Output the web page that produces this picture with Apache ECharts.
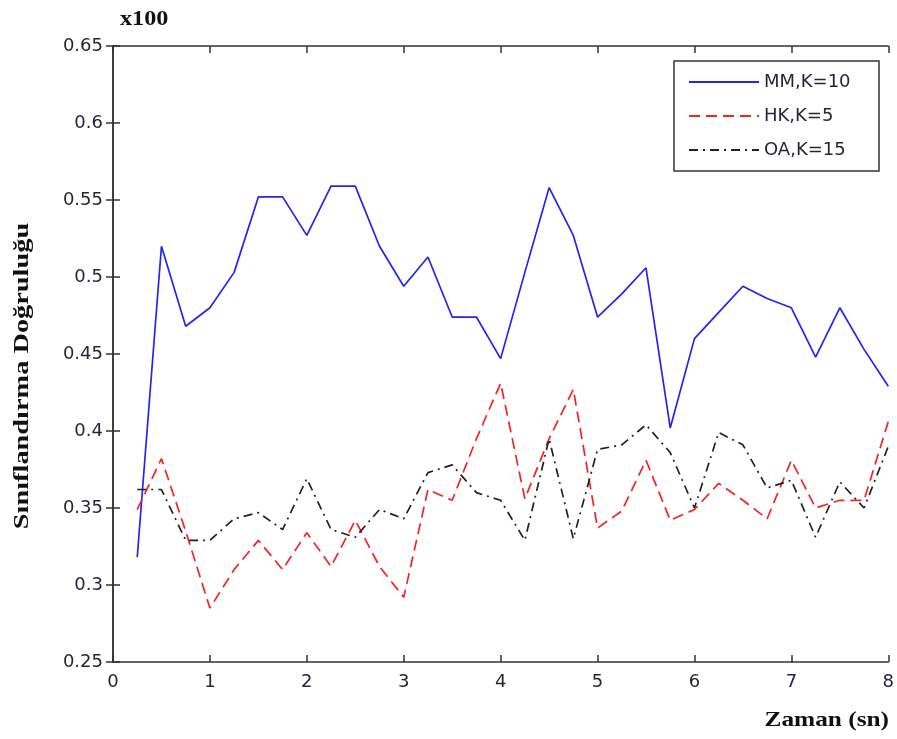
<!DOCTYPE html>
<html>
<head>
<meta charset="utf-8">
<title>Sınıflandırma Doğruluğu</title>
<script src="https://cdn.jsdelivr.net/npm/echarts@6/dist/echarts.min.js"></script>
<style>
  html, body { margin: 0; padding: 0; background: #fff; }
  #chart { width: 897px; height: 739px; }
</style>
</head>
<body>
<div id="chart"></div>
<script>
// zaman (sn)
const times = [0.25, 0.5, 0.75, 1, 1.25, 1.5, 1.75, 2, 2.25, 2.5, 2.75, 3, 3.25, 3.5, 3.75, 4,
  4.25, 4.5, 4.75, 5, 5.25, 5.5, 5.75, 6, 6.25, 6.5, 6.75, 7, 7.25, 7.5, 7.75, 8];

const mmK10 = [0.318, 0.520, 0.468, 0.480, 0.503, 0.552, 0.552, 0.527, 0.559, 0.559, 0.520, 0.494,
  0.513, 0.474, 0.474, 0.447, 0.503, 0.558, 0.527, 0.474, 0.489, 0.506, 0.402, 0.460,
  0.477, 0.494, 0.486, 0.480, 0.448, 0.480, 0.453, 0.429];

const hkK5 = [0.349, 0.382, 0.335, 0.285, 0.310, 0.329, 0.310, 0.334, 0.312, 0.342, 0.312, 0.292,
  0.362, 0.355, 0.395, 0.431, 0.356, 0.395, 0.427, 0.337, 0.348, 0.381, 0.342, 0.349,
  0.366, 0.355, 0.343, 0.381, 0.350, 0.355, 0.355, 0.406];

const oaK15 = [0.362, 0.362, 0.329, 0.329, 0.343, 0.347, 0.336, 0.369, 0.336, 0.331, 0.349, 0.343,
  0.373, 0.378, 0.360, 0.355, 0.329, 0.395, 0.330, 0.388, 0.391, 0.404, 0.386, 0.350,
  0.399, 0.391, 0.363, 0.368, 0.331, 0.367, 0.350, 0.390];

const seriesNames = ['MM,K=10', 'HK,K=5', 'OA,K=15'];

function pairs(vals) {
  return times.map((t, i) => [t, vals[i]]);
}

const chart = echarts.init(document.getElementById('chart'));

const SANS = 'DejaVu Sans, Arial, sans-serif';
const SERIF = 'Liberation Serif, Times New Roman, serif';
const axisLine = { show: true, lineStyle: { color: '#333', width: 1.5 } };
const tick = { show: true, inside: true, length: 7, lineStyle: { color: '#333', width: 1.5 } };
const labelStyle = { color: '#26263a', fontSize: 18, fontFamily: SANS };

chart.setOption({
  animation: false,
  backgroundColor: '#fff',
  grid: { left: 113, right: 7, top: 46, bottom: 77 },
  xAxis: [
    {
      type: 'value', min: 0, max: 8, interval: 1, position: 'bottom',
      axisLine: axisLine, axisTick: tick, splitLine: { show: false },
      axisLabel: Object.assign({ margin: 11 }, labelStyle)
    },
    {
      type: 'value', min: 0, max: 8, interval: 1, position: 'top',
      axisLine: axisLine, axisTick: tick, splitLine: { show: false },
      axisLabel: { show: false }
    }
  ],
  yAxis: [
    {
      type: 'value', min: 0.25, max: 0.65, interval: 0.05, position: 'left',
      axisLine: axisLine, axisTick: tick, splitLine: { show: false },
      axisLabel: Object.assign({ margin: 10 }, labelStyle)
    },
    {
      type: 'value', min: 0.25, max: 0.65, interval: 0.05, position: 'right',
      axisLine: axisLine, axisTick: tick, splitLine: { show: false },
      axisLabel: { show: false }
    }
  ],
  legend: {
    orient: 'vertical',
    left: 674, top: 61,
    padding: [11, 10, 11, 14],
    itemWidth: 70, itemHeight: 14, itemGap: 14,
    borderColor: '#333', borderWidth: 1.5, backgroundColor: '#fff',
    itemStyle: { opacity: 0 },
    data: seriesNames,
    textStyle: { color: '#26263a', fontSize: 18, lineHeight: 20, width: 105,
      fontFamily: SANS }
  },
  graphic: [
    { type: 'text', x: 120, y: 8, scaleX: 1.1,
      style: { text: 'x100', font: 'bold 22px ' + SERIF, fill: '#111' } },
    { type: 'text', x: 889, y: 720, scaleX: 1.15,
      style: { text: 'Zaman (sn)', font: 'bold 22px ' + SERIF, fill: '#111',
        align: 'right', verticalAlign: 'middle' } },
    { type: 'text', x: 23, y: 376, rotation: Math.PI / 2, scaleX: 1.35,
      style: { text: 'Sınıflandırma Doğruluğu', font: 'bold 21px ' + SERIF, fill: '#111',
        align: 'center', verticalAlign: 'middle' } }
  ],
  series: [
    {
      name: seriesNames[0], type: 'line', symbol: 'none', data: pairs(mmK10),
      lineStyle: { color: '#2424f0', width: 1.7 }, itemStyle: { color: '#2424f0' }
    },
    {
      name: seriesNames[1], type: 'line', symbol: 'none', data: pairs(hkK5),
      lineStyle: { color: '#f02424', width: 1.7, type: [11, 6] }, itemStyle: { color: '#f02424' }
    },
    {
      name: seriesNames[2], type: 'line', symbol: 'none', data: pairs(oaK15),
      lineStyle: { color: '#222', width: 1.7, type: [9, 5, 2, 5] }, itemStyle: { color: '#222' }
    }
  ]
});
</script>
</body>
</html>
